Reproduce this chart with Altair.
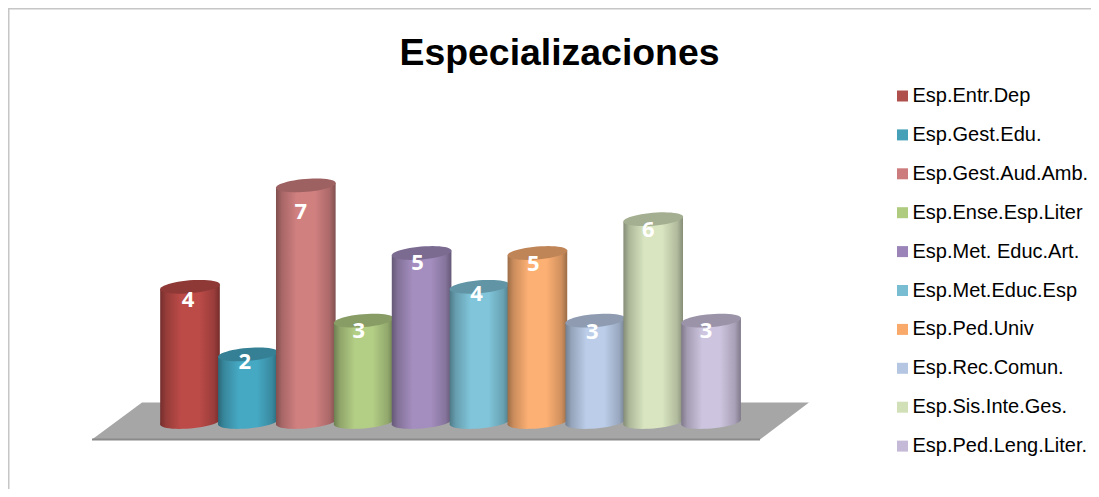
import math
import altair as alt
import pandas as pd

series = ["Esp.Entr.Dep", "Esp.Gest.Edu.", "Esp.Gest.Aud.Amb.", "Esp.Ense.Esp.Liter",
          "Esp.Met. Educ.Art.", "Esp.Met.Educ.Esp", "Esp.Ped.Univ", "Esp.Rec.Comun.",
          "Esp.Sis.Inte.Ges.", "Esp.Ped.Leng.Liter."]
values = [4, 2, 7, 3, 5, 4, 5, 3, 6, 3]
colors = ["#BC4B48", "#46A9C4", "#D18080", "#B3CE85", "#A48EBF",
          "#80C5DA", "#FDB073", "#BBCDE9", "#D8E5C0", "#CDC4DF"]
legend_colors = ["#B0504D", "#45A0B8", "#CC7C7C", "#AECB7E", "#9A84B8",
                 "#78BDD2", "#F9A96A", "#B4C6E2", "#D2E0B8", "#C4BAD8"]
label_dy = [13, 8, 27, 10, 10, 7, 11, 11, 11, 10]
label_dx = [-2, -3, -5, -5, -4, -3, -4, -3, -5, -5]

W, H = 1083, 481
UX, UY = 57.9, 33.8          # px per category step, px per unit
x_dom = [-182 / UX, (W - 182) / UX]
y_dom = [(414 - H) / UY, 414 / UY]
HALF = 0.515                 # half cylinder width in category units
TILT = 2.5 / UY              # rise of the rims in value units

x_scale = alt.Scale(domain=x_dom, nice=False, zero=False)
y_scale = alt.Scale(domain=y_dom, nice=False, zero=False)
X = lambda f: alt.X(f, type="quantitative", scale=x_scale, axis=None)
Y = lambda f: alt.Y(f, type="quantitative", scale=y_scale, axis=None)
Y2 = lambda f: alt.Y2(f)


def shade(c, k):
    r, g, b = int(c[1:3], 16), int(c[3:5], 16), int(c[5:7], 16)
    return "#%02x%02x%02x" % (int(r * k), int(g * k), int(b * k))


def body_gradient(c):
    return alt.Gradient(gradient="linear", x1=0, y1=0, x2=1, y2=0, stops=[
        alt.GradientStop(offset=0, color=shade(c, 0.62)),
        alt.GradientStop(offset=0.1, color=shade(c, 0.8)),
        alt.GradientStop(offset=0.35, color=c),
        alt.GradientStop(offset=0.65, color=c),
        alt.GradientStop(offset=0.9, color=shade(c, 0.82)),
        alt.GradientStop(offset=1, color=shade(c, 0.62)),
    ])


# tilted ellipse outline in symbol units
rim_pts = []
for k in range(48):
    t = 2 * math.pi * k / 48
    ex, ey = math.cos(t), 0.215 * math.sin(t)
    a = math.radians(-4.8)
    rim_pts.append((ex * math.cos(a) - ey * math.sin(a), ex * math.sin(a) + ey * math.cos(a)))
RIM = "M" + "L".join(f"{p:.4f},{q:.4f}" for p, q in rim_pts) + "Z"
RIM_SIZE = 3600

# floor plane
floor_x = [(p - 190) / UX for p in (92, 142, 760, 809)]
floor_top = [(422 - p) / UY for p in (439.5, 402.5, 402.5, 402.5)]
floor_bot = [(422 - p) / UY for p in (439.5, 439.5, 439.5, 402.5)]
floor = alt.Chart(pd.DataFrame({"x": floor_x, "a": floor_top, "b": floor_bot})).mark_area(
    color="#A6A6A6", opacity=1, interpolate="linear"
).encode(x=X("x"), y=Y("a"), y2=Y2("b"))

edge = alt.Chart(pd.DataFrame({"x": floor_x[:1] + floor_x[2:3], "a": [floor_bot[0]] * 2})).mark_line(
    color="#8A8A8A", strokeWidth=2
).encode(x=X("x"), y=Y("a"))

df = pd.DataFrame({"i": range(len(series)), "serie": series, "v": values})
df["l"] = df["i"] - HALF * 0.8
df["r"] = df["i"] + HALF * 0.8
df["z"] = 0

# flat base bars: they carry the colour legend, the shaded cylinders sit on top
base = alt.Chart(df).mark_bar(opacity=1).encode(
    x=X("l"), x2=alt.X2("r"), y=Y("v"), y2=Y2("z"),
    color=alt.Color("serie:N", scale=alt.Scale(domain=series, range=legend_colors),
                    legend=alt.Legend(title=None, orient="none", legendX=884.5, legendY=78,
                                      symbolType="square", symbolSize=121, symbolStrokeWidth=0,
                                      labelFont="Liberation Sans", labelFontSize=20,
                                      labelColor="#000000", labelLimit=300, labelOffset=0,
                                      rowPadding=18.9)),
)

layers = [floor, edge, base]
for i, (v, c) in enumerate(zip(values, colors)):
    body = pd.DataFrame({
        "x": [i - HALF, i + HALF],
        "t": [v - TILT, v + TILT],
        "b": [-TILT, TILT],
    })
    pt = pd.DataFrame({"x": [i], "v": [v], "z": [0]})
    layers.append(alt.Chart(pt).mark_point(shape=RIM, size=RIM_SIZE, filled=True, opacity=1,
                                           color=body_gradient(c), strokeWidth=0)
                  .encode(x=X("x"), y=Y("z")))
    layers.append(alt.Chart(body).mark_area(color=body_gradient(c), opacity=1)
                  .encode(x=X("x"), y=Y("t"), y2=Y2("b")))
    layers.append(alt.Chart(pt).mark_point(shape=RIM, size=RIM_SIZE, filled=True, opacity=1,
                                           color=shade(c, 0.76), strokeWidth=0)
                  .encode(x=X("x"), y=Y("v")))

for i, v in enumerate(values):
    pt = pd.DataFrame({"x": [i], "v": [v], "txt": [str(v)]})
    layers.append(alt.Chart(pt).mark_text(font="Open Sans", fontWeight="bold", fontSize=22,
                                          color="#FFFFFF", dx=label_dx[i], dy=label_dy[i])
                  .encode(x=X("x"), y=Y("v"), text="txt:N"))

frame_top = alt.Chart(pd.DataFrame({"a": [0]})).mark_rule(color="#C6C6C6", strokeWidth=2).encode(
    x=alt.value(0), x2=alt.value(W), y=alt.value(0.5))
frame_left = alt.Chart(pd.DataFrame({"a": [0]})).mark_rule(color="#C6C6C6", strokeWidth=2).encode(
    y=alt.value(0), y2=alt.value(H), x=alt.value(0.5))
layers += [frame_top, frame_left]

chart = alt.layer(*layers).properties(
    width=W, height=H, padding=0,
    autosize=alt.AutoSizeParams(type="none"),
    title=alt.TitleParams("Especializaciones", font="Liberation Sans", fontSize=37.4, fontWeight="bold",
                          color="#000000", anchor="middle", frame="group", dx=10, dy=69.5),
).configure_view(stroke=None)

chart.save("out.html", embed_options={"renderer": "svg", "actions": False})
